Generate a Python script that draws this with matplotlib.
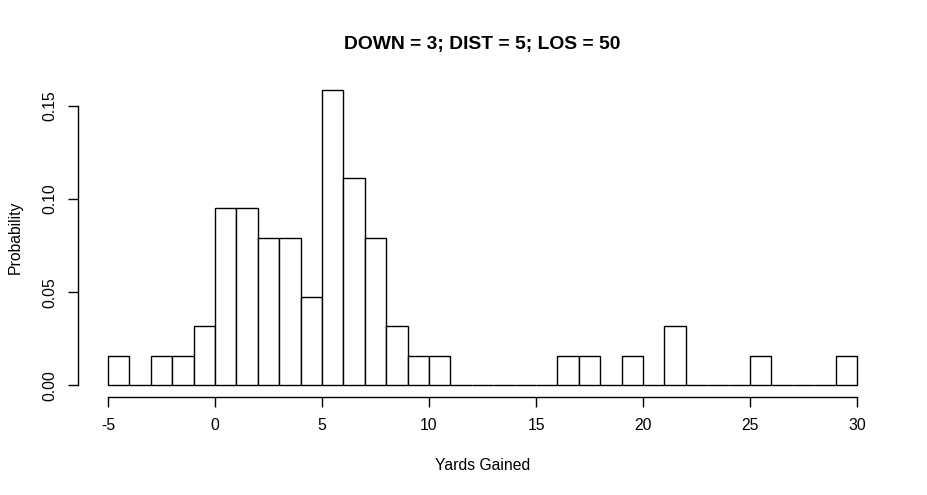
import numpy as np
import matplotlib.pyplot as plt

plt.rcParams['font.family'] = ['Liberation Sans', 'DejaVu Sans']

# histogram of yards gained, 1-yard bins from -5 to 30, counts out of 63 plays
bin_edges = np.arange(-5, 31, 1)
counts = [1, 0, 1, 1, 2, 6, 6, 5, 5, 3,
          10, 7, 5, 2, 1, 1, 0, 0, 0, 0,
          0, 1, 1, 0, 1, 0, 2, 0, 0, 0,
          1, 0, 0, 0, 1]
probs = np.array(counts) / sum(counts)

x_ticks = [-5, 0, 5, 10, 15, 20, 25, 30]
y_ticks = [0.00, 0.05, 0.10, 0.15]

fig = plt.figure(figsize=(9.28, 4.95), dpi=100)
ax = fig.add_axes([78 / 928, 98 / 495, 809 / 928, 319 / 495])

ax.bar(bin_edges[:-1], probs, width=1, align='edge',
       color='white', edgecolor='black', linewidth=1)

# R-style 4% padding
xr = bin_edges[-1] - bin_edges[0]
ax.set_xlim(bin_edges[0] - 0.04 * xr, bin_edges[-1] + 0.04 * xr)
ymax = probs.max()
ax.set_ylim(-0.04 * ymax, ymax * 1.04)

for s in ['top', 'right']:
    ax.spines[s].set_visible(False)
ax.spines['bottom'].set_bounds(-5, 30)
ax.spines['left'].set_bounds(0, 0.15)
ax.spines['bottom'].set_linewidth(1)
ax.spines['left'].set_linewidth(1)

ax.set_xticks(x_ticks)
ax.set_xticklabels([str(t) for t in x_ticks])
ax.set_yticks(y_ticks)
ax.set_yticklabels([f'{t:.2f}' for t in y_ticks], rotation=90, va='center')
ax.tick_params(axis='both', length=7, width=1, labelsize=11.3, pad=8)
ax.tick_params(axis='y', pad=8)

ax.set_xlabel('Yards Gained', fontsize=11.3, labelpad=18)
ax.set_ylabel('Probability', fontsize=11.3, labelpad=14)
ax.set_title('DOWN = 3; DIST = 5; LOS = 50', fontsize=13.9, fontweight='bold', pad=21)

fig.savefig('out.png', dpi=100)
